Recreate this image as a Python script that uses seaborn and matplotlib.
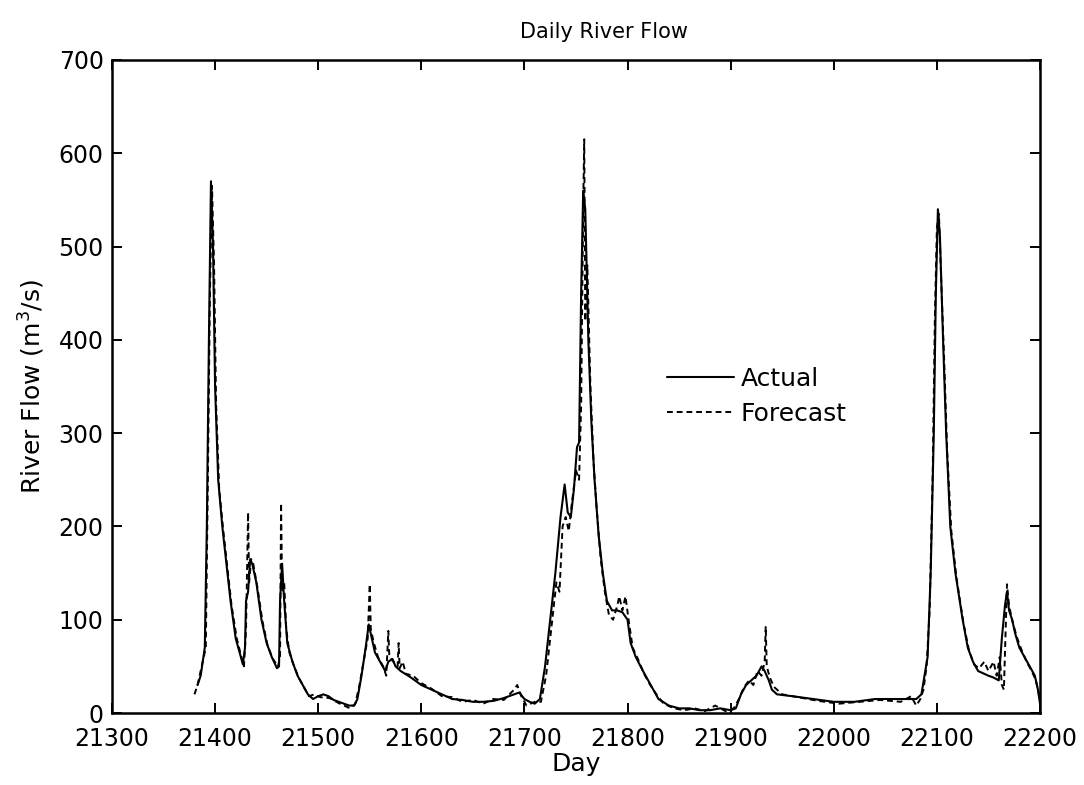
import matplotlib
matplotlib.use("Agg")
import matplotlib.pyplot as plt
import seaborn as sns
import pandas as pd

# ---- data ----
actual_day = [21383, 21386, 21388, 21390, 21392, 21394, 21396, 21398, 21400, 21403, 21407, 21410,
              21415, 21420, 21425, 21427, 21429, 21430, 21432, 21434, 21436, 21440, 21445, 21450,
              21455, 21460, 21462, 21463, 21465, 21467, 21470, 21475, 21480, 21485, 21490, 21495,
              21500, 21505, 21510, 21515, 21520, 21525, 21530, 21535, 21538, 21542, 21546, 21549,
              21552, 21555, 21560, 21565, 21568, 21572, 21575, 21580, 21590, 21600, 21610, 21620,
              21630, 21640, 21650, 21660, 21670, 21680, 21690, 21695, 21700, 21705, 21710, 21715,
              21720, 21725, 21730, 21735, 21739, 21742, 21745, 21748, 21751, 21753, 21755, 21757,
              21759, 21762, 21765, 21768, 21772, 21776, 21780, 21785, 21790, 21795, 21800, 21803,
              21808, 21815, 21820, 21825, 21830, 21840, 21850, 21860, 21870, 21880, 21890, 21900,
              21905, 21910, 21915, 21920, 21925, 21930, 21933, 21937, 21940, 21945, 21960, 21980,
              22000, 22020, 22040, 22060, 22070, 22080, 22085, 22088, 22091, 22094, 22097, 22099,
              22101, 22103, 22106, 22109, 22113, 22118, 22125, 22130, 22135, 22140, 22150, 22155,
              22160, 22163, 22166, 22168, 22170, 22173, 22176, 22180, 22185, 22190, 22195, 22198,
              22200]
actual_flow = [30, 40, 55, 70, 200, 400, 570, 500, 350, 250, 200, 170,
               120, 80, 60, 52, 70, 120, 130, 165, 160, 140, 100, 75,
               60, 48, 50, 120, 160, 120, 75, 55, 40, 30, 20, 15,
               18, 20, 18, 14, 12, 10, 8, 8, 15, 40, 70, 95,
               80, 65, 55, 45, 55, 58, 50, 45, 38, 30, 25, 20,
               15, 14, 12, 12, 13, 16, 20, 22, 15, 12, 10, 15,
               50, 100, 150, 210, 245, 215, 210, 240, 285, 290, 450, 560,
               540, 400, 310, 250, 190, 150, 120, 110, 110, 108, 100, 75,
               60, 45, 35, 25, 15, 8, 5, 5, 3, 3, 5, 3,
               5, 20, 30, 35, 40, 50, 45, 35, 25, 20, 18, 15,
               12, 12, 15, 15, 15, 15, 20, 40, 60, 150, 300, 450,
               540, 510, 400, 300, 200, 150, 100, 70, 55, 45, 40, 38,
               35, 80, 115, 130, 110, 100, 85, 70, 60, 50, 40, 25,
               10]

forecast_day = [21380, 21383, 21386, 21389, 21391, 21393, 21395, 21397, 21399, 21401, 21404, 21408,
                21411, 21416, 21421, 21426, 21428, 21430, 21431, 21432, 21433, 21435, 21437, 21441,
                21446, 21451, 21456, 21461, 21463, 21464, 21465, 21467, 21469, 21472, 21476, 21481,
                21486, 21491, 21496, 21502, 21511, 21521, 21531, 21536, 21540, 21544, 21548, 21550,
                21551, 21554, 21558, 21563, 21566, 21568, 21569, 21573, 21577, 21578, 21579, 21582,
                21585, 21592, 21600, 21610, 21620, 21630, 21640, 21650, 21660, 21670, 21680, 21690,
                21693, 21697, 21702, 21710, 21716, 21721, 21726, 21731, 21734, 21737, 21740, 21743,
                21746, 21750, 21753, 21755, 21757, 21758, 21759, 21761, 21764, 21767, 21770, 21774,
                21778, 21782, 21786, 21790, 21792, 21795, 21798, 21801, 21805, 21810, 21816, 21822,
                21828, 21835, 21845, 21855, 21865, 21875, 21885, 21895, 21903, 21908, 21913, 21918,
                21922, 21926, 21930, 21933, 21934, 21935, 21938, 21942, 21950, 21965, 21985, 22005,
                22025, 22045, 22065, 22075, 22080, 22084, 22087, 22090, 22093, 22096, 22098, 22100,
                22102, 22104, 22107, 22110, 22114, 22119, 22126, 22131, 22136, 22141, 22146, 22150,
                22155, 22158, 22161, 22163, 22165, 22167, 22168, 22170, 22174, 22178, 22182, 22187,
                22192, 22196, 22199]
forecast_flow = [20, 30, 45, 60, 70, 250, 450, 565, 480, 330, 240, 195,
                 165, 115, 80, 58, 50, 90, 150, 215, 140, 165, 160, 135,
                 98, 72, 58, 50, 60, 225, 130, 140, 90, 65, 52, 38,
                 28, 18, 20, 17, 16, 10, 5, 10, 30, 55, 80, 138,
                 90, 75, 60, 50, 40, 88, 60, 55, 50, 75, 48, 55,
                 42, 40, 32, 26, 18, 17, 12, 14, 10, 15, 14, 25,
                 30, 18, 8, 12, 12, 40, 90, 140, 130, 200, 210, 195,
                 225, 260, 250, 330, 545, 615, 420, 480, 350, 270, 220, 165,
                 130, 105, 100, 115, 125, 110, 125, 100, 70, 58, 42, 30,
                 20, 10, 5, 3, 5, 2, 8, 2, 5, 15, 28, 35,
                 30, 45, 40, 55, 93, 50, 38, 28, 20, 17, 13, 10,
                 12, 14, 12, 18, 8, 15, 25, 50, 110, 260, 420, 520,
                 535, 470, 380, 280, 195, 145, 95, 68, 52, 48, 55, 45,
                 55, 40, 60, 30, 25, 100, 138, 115, 95, 80, 68, 55,
                 45, 35, 20]

x_ticks = [21300, 21400, 21500, 21600, 21700, 21800, 21900, 22000, 22100, 22200]
y_ticks = [0, 100, 200, 300, 400, 500, 600, 700]

df_a = pd.DataFrame({"Day": actual_day, "Flow": actual_flow})
df_f = pd.DataFrame({"Day": forecast_day, "Flow": forecast_flow})

sns.set_theme(style="ticks")
plt.rcParams["font.family"] = ["DejaVu Sans"]
plt.rcParams["xtick.direction"] = "in"
plt.rcParams["ytick.direction"] = "in"

fig = plt.figure(figsize=(10.84, 7.85), dpi=100)
ax = fig.add_axes([0.1033, 0.0917, 0.8561, 0.8319])

sns.lineplot(data=df_a, x="Day", y="Flow", ax=ax, color="black", linewidth=1.5,
             label="Actual", estimator=None, sort=False)
sns.lineplot(data=df_f, x="Day", y="Flow", ax=ax, color="black", linewidth=1.4,
             label="Forecast", estimator=None, sort=False, dashes=False)
ax.lines[1].set_linestyle((0, (3, 2)))

ax.set_xlim(21300, 22200)
ax.set_ylim(0, 700)
ax.set_xticks(x_ticks)
ax.set_yticks(y_ticks)
ax.tick_params(axis="both", which="both", direction="in", length=7, width=1.4,
               top=True, right=True, labelsize=17, colors="black")
ax.tick_params(axis="x", pad=10)
ax.tick_params(axis="y", pad=6)
for s in ax.spines.values():
    s.set_linewidth(1.8)
    s.set_color("black")

ax.set_title("Daily River Flow", fontsize=15, pad=16, x=0.53, color="black")
ax.set_xlabel("Day", fontsize=18, labelpad=1, color="black")
ax.set_ylabel("River Flow (m$^3$/s)", fontsize=18, labelpad=8, color="black")

leg = ax.legend(loc="upper left", bbox_to_anchor=(0.598, 0.53), frameon=False,
                fontsize=18, handlelength=2.7, handletextpad=0.25, borderaxespad=0,
                borderpad=0, labelspacing=0.45)
leg.get_lines()[1].set_linestyle((0, (3, 2)))
for t in leg.get_texts():
    t.set_color("black")

fig.savefig("out.png", dpi=100)
